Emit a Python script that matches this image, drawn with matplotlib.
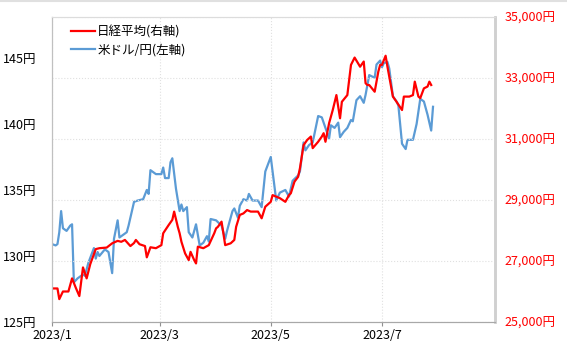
import matplotlib.pyplot as plt
import pandas as pd
from matplotlib.lines import Line2D

plt.rcParams['font.family'] = ['Noto Sans CJK JP', 'DejaVu Sans']

# 日経平均 (right axis, 円)
nikkei_dates = [
    '2023-01-01', '2023-01-04', '2023-01-05', '2023-01-07', '2023-01-10', '2023-01-12',
    '2023-01-14', '2023-01-16', '2023-01-18', '2023-01-20', '2023-01-22', '2023-01-25',
    '2023-01-27', '2023-01-31', '2023-02-03', '2023-02-06', '2023-02-08', '2023-02-10',
    '2023-02-13', '2023-02-15', '2023-02-16', '2023-02-18', '2023-02-21', '2023-02-22',
    '2023-02-24', '2023-02-27', '2023-03-02', '2023-03-03', '2023-03-06', '2023-03-08',
    '2023-03-09', '2023-03-11', '2023-03-12', '2023-03-13', '2023-03-15', '2023-03-17',
    '2023-03-18', '2023-03-20', '2023-03-21', '2023-03-22', '2023-03-25', '2023-03-28',
    '2023-03-31', '2023-04-01', '2023-04-02', '2023-04-04', '2023-04-05', '2023-04-06',
    '2023-04-09', '2023-04-11', '2023-04-12', '2023-04-14', '2023-04-16', '2023-04-18',
    '2023-04-20', '2023-04-24', '2023-04-26', '2023-04-28', '2023-05-01', '2023-05-02',
    '2023-05-04', '2023-05-06', '2023-05-09', '2023-05-11', '2023-05-12', '2023-05-14',
    '2023-05-16', '2023-05-17', '2023-05-19', '2023-05-21', '2023-05-23', '2023-05-24',
    '2023-05-27', '2023-05-29', '2023-05-30', '2023-05-31', '2023-06-02', '2023-06-04',
    '2023-06-06', '2023-06-08', '2023-06-09', '2023-06-12', '2023-06-14', '2023-06-16',
    '2023-06-19', '2023-06-21', '2023-06-22', '2023-06-23', '2023-06-24', '2023-06-27',
    '2023-06-28', '2023-06-29', '2023-06-30', '2023-07-01', '2023-07-03', '2023-07-04',
    '2023-07-07', '2023-07-09', '2023-07-12', '2023-07-13', '2023-07-16', '2023-07-18',
    '2023-07-19', '2023-07-21', '2023-07-22', '2023-07-24', '2023-07-26', '2023-07-27',
    '2023-07-28',
]
nikkei = [
    26100, 26100, 25750, 26000, 26000, 26430,
    26130, 25850, 26790, 26430, 26900, 27390,
    27420, 27440, 27580, 27660, 27630, 27690,
    27490, 27590, 27690, 27550, 27490, 27120,
    27450, 27420, 27520, 27910, 28180, 28350,
    28620, 28120, 27910, 27630, 27250, 27030,
    27300, 27030, 26920, 27470, 27420, 27520,
    27910, 28070, 28120, 28290, 27910, 27520,
    27580, 27690, 28120, 28510, 28560, 28670,
    28620, 28620, 28400, 28780, 28940, 29160,
    29110, 29060, 28940, 29160, 29220, 29600,
    29760, 30040, 30800, 30970, 31080, 30700,
    30910, 31080, 31190, 30910, 31520, 31950,
    32440, 31680, 32220, 32440, 33430, 33670,
    33370, 33540, 32830, 32770, 32770, 32550,
    32880, 33210, 33430, 33430, 33730, 33370,
    32390, 32220, 31950, 32390, 32390, 32440,
    32880, 32390, 32340, 32660, 32720, 32880,
    32770,
]

# 米ドル/円 (left axis, 円)
usdjpy_dates = [
    '2023-01-01', '2023-01-03', '2023-01-04', '2023-01-05', '2023-01-06', '2023-01-07',
    '2023-01-09', '2023-01-11', '2023-01-12', '2023-01-13', '2023-01-15', '2023-01-17',
    '2023-01-18', '2023-01-19', '2023-01-21', '2023-01-24', '2023-01-25', '2023-01-26',
    '2023-01-27', '2023-01-30', '2023-02-01', '2023-02-03', '2023-02-04', '2023-02-06',
    '2023-02-07', '2023-02-11', '2023-02-12', '2023-02-15', '2023-02-17', '2023-02-20',
    '2023-02-22', '2023-02-23', '2023-02-24', '2023-02-27', '2023-03-02', '2023-03-03',
    '2023-03-04', '2023-03-06', '2023-03-07', '2023-03-08', '2023-03-10', '2023-03-12',
    '2023-03-13', '2023-03-14', '2023-03-16', '2023-03-17', '2023-03-19', '2023-03-21',
    '2023-03-23', '2023-03-25', '2023-03-27', '2023-03-28', '2023-03-29', '2023-04-01',
    '2023-04-04', '2023-04-06', '2023-04-07', '2023-04-10', '2023-04-11', '2023-04-13',
    '2023-04-14', '2023-04-16', '2023-04-18', '2023-04-19', '2023-04-21', '2023-04-24',
    '2023-04-26', '2023-04-28', '2023-05-01', '2023-05-02', '2023-05-04', '2023-05-06',
    '2023-05-09', '2023-05-11', '2023-05-13', '2023-05-16', '2023-05-17', '2023-05-19',
    '2023-05-20', '2023-05-22', '2023-05-24', '2023-05-27', '2023-05-29', '2023-05-31',
    '2023-06-02', '2023-06-03', '2023-06-05', '2023-06-07', '2023-06-08', '2023-06-10',
    '2023-06-12', '2023-06-14', '2023-06-15', '2023-06-17', '2023-06-19', '2023-06-21',
    '2023-06-22', '2023-06-24', '2023-06-27', '2023-06-28', '2023-06-30', '2023-07-01',
    '2023-07-02', '2023-07-04', '2023-07-05', '2023-07-07', '2023-07-09', '2023-07-10',
    '2023-07-12', '2023-07-14', '2023-07-15', '2023-07-18', '2023-07-20', '2023-07-22',
    '2023-07-24', '2023-07-26', '2023-07-28', '2023-07-29',
]
usdjpy = [
    130.9, 130.8, 130.9, 131.8, 133.4, 132.1,
    131.9, 132.3, 132.4, 128.0, 128.3, 128.5,
    128.6, 128.5, 129.5, 130.6, 129.8, 130.3,
    130.0, 130.5, 130.3, 128.7, 131.3, 132.7,
    131.4, 131.8, 132.3, 134.1, 134.2, 134.3,
    135.0, 134.7, 136.5, 136.2, 136.2, 136.7,
    135.9, 135.9, 137.1, 137.4, 135.1, 133.4,
    133.9, 133.4, 133.7, 131.8, 131.4, 132.4,
    130.8, 131.0, 131.5, 131.1, 132.8, 132.7,
    132.3, 131.3, 131.9, 133.4, 133.6, 132.9,
    133.8, 134.3, 134.2, 134.7, 134.2, 134.2,
    133.7, 136.4, 137.5, 136.4, 134.2, 134.8,
    135.0, 134.5, 135.7, 136.1, 136.4, 138.6,
    138.0, 138.4, 138.6, 140.6, 140.5, 139.7,
    138.9, 139.9, 139.7, 140.1, 139.0, 139.4,
    139.7, 140.3, 140.2, 141.8, 142.1, 141.6,
    142.2, 143.7, 143.5, 144.5, 144.8, 144.3,
    144.6, 144.7, 144.2, 142.1, 141.7, 141.4,
    138.5, 138.1, 138.8, 138.8, 140.0, 141.9,
    141.7, 140.7, 139.5, 141.3,
]

x_ticks = ['2023-01-01', '2023-03-01', '2023-05-01', '2023-07-01']
x_labels = ['2023/1', '2023/3', '2023/5', '2023/7']
left_ticks = [125, 130, 135, 140, 145]
right_ticks = [25000, 27000, 29000, 31000, 33000, 35000]

W, H = 567, 355
fig = plt.figure(figsize=(W / 100, H / 100), dpi=100)
ax = fig.add_axes([52 / W, 33 / H, 443 / W, 305 / H])
ax2 = ax.twinx()

ax.plot(pd.to_datetime(usdjpy_dates), usdjpy, color='#5b9bd5', lw=1.6)
ax2.plot(pd.to_datetime(nikkei_dates), nikkei, color='#ff0000', lw=1.6)

ax.set_xlim(pd.Timestamp('2023-01-01'), pd.Timestamp('2023-09-01'))
ax.set_xticks(pd.to_datetime(x_ticks))
ax.set_xticklabels(x_labels, fontsize=9)
ax.set_ylim(125, 148.1)
ax.set_yticks(left_ticks)
ax.set_yticklabels([f'{v}円' for v in left_ticks], fontsize=9)
ax2.set_ylim(25000, 35000)
ax2.set_yticks(right_ticks)
ax2.set_yticklabels([f'{v:,}円' for v in right_ticks], fontsize=9, color='#ff0000')

ax.tick_params(axis='x', length=3, width=0.8, color='#909090', pad=2)
ax.tick_params(axis='y', length=0, pad=11)
ax2.tick_params(axis='y', length=0, pad=7)

ax.grid(axis='x', color='#e0e0e0', ls=':', lw=0.8)
ax2.grid(axis='y', color='#e0e0e0', ls=':', lw=0.8)
ax2.set_axisbelow(True)

for a in (ax, ax2):
    a.spines['top'].set_color('#dcdcdc')
    a.spines['left'].set_color('#c0c0c0')
    a.spines['bottom'].set_color('#a8a8a8')
    a.spines['right'].set_color('#d0d0d0')
    a.spines['right'].set_linewidth(1.8)

handles = [Line2D([], [], color='#ff0000', lw=1.6),
           Line2D([], [], color='#5b9bd5', lw=1.6)]
fig.legend(handles, ['日経平均(右軸)', '米ドル/円(左軸)'], loc='upper left',
           bbox_to_anchor=(71 / W, 1 - 25 / H), frameon=False, fontsize=9,
           borderpad=0, borderaxespad=0, handlelength=1.9, handletextpad=0.2,
           labelspacing=0.45)

fig.add_artist(Line2D([0, 1], [1 - 0.5 / H, 1 - 0.5 / H], color='#e0e0e0', lw=1.5,
                      transform=fig.transFigure))

fig.savefig('out.png', dpi=100)
